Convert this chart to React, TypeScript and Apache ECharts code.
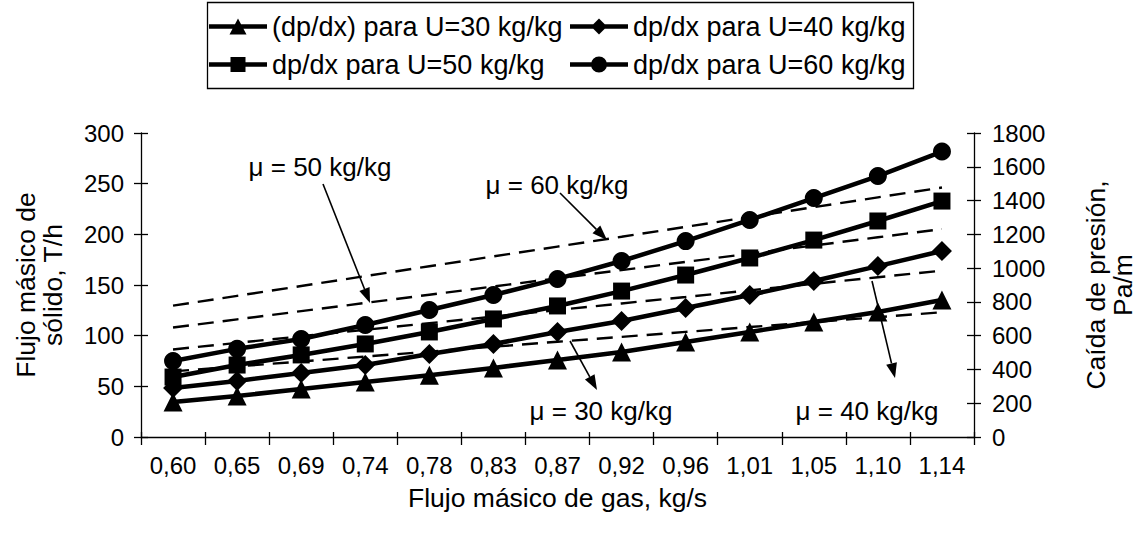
import React, { useEffect, useRef } from "react";
import * as echarts from "echarts";

// ---------- data ----------
const gasFlow = ["0,60", "0,65", "0,69", "0,74", "0,78", "0,83", "0,87", "0,92", "0,96", "1,01", "1,05", "1,10", "1,14"];

// pressure drop (Pa/m), right axis
const dpU30 = [207, 243, 284, 326, 365, 409, 456, 503, 562, 622, 681, 740, 811];
const dpU40 = [290, 332, 379, 426, 491, 551, 622, 687, 764, 841, 924, 1012, 1101];
const dpU50 = [355, 426, 486, 551, 622, 699, 776, 864, 959, 1060, 1166, 1279, 1397];
const dpU60 = [450, 522, 580, 663, 752, 841, 936, 1042, 1160, 1285, 1415, 1545, 1690];

// solids mass flow (T/h), left axis
const solidsMu30 = [64.8, 69.7, 74.5, 79.4, 84.2, 89.1, 94.0, 98.8, 103.7, 108.5, 113.4, 118.3, 123.1];
const solidsMu40 = [86.4, 92.9, 99.4, 105.8, 112.3, 118.8, 125.3, 131.8, 138.2, 144.7, 151.2, 157.7, 164.2];
const solidsMu50 = [108.0, 116.1, 124.2, 132.3, 140.4, 148.5, 156.6, 164.7, 172.8, 180.9, 189.0, 197.1, 205.2];
const solidsMu60 = [129.6, 139.3, 149.0, 158.8, 168.5, 178.2, 187.9, 197.6, 207.4, 217.1, 226.8, 236.5, 246.2];

const seriesNames = [
  "(dp/dx) para U=30 kg/kg",
  "dp/dx para U=40 kg/kg",
  "dp/dx para U=50 kg/kg",
  "dp/dx para U=60 kg/kg",
];
const annotationTexts = ["μ = 50 kg/kg", "μ = 60 kg/kg", "μ = 30 kg/kg", "μ = 40 kg/kg"];

const leftAxisRange = { min: 0, max: 300, interval: 50 };
const rightAxisRange = { min: 0, max: 1800, interval: 200 };

const xAxisTitle = "Flujo másico de gas, kg/s";
const leftAxisTitle = "Flujo másico de\nsólido, T/h";
const rightAxisTitle = "Caída de presión,\nPa/m";

// ---------- layout / style ----------
const FONT = '"Liberation Sans", Arial, Helvetica, sans-serif';
const BLACK = "#000";

// annotation layout: [textCenterX, textCenterY, arrowFromX, arrowFromY, arrowToX, arrowToY]
const annotationLayout = [
  [320, 167, 323, 184, 370, 303],
  [557, 185, 560, 193, 607, 240],
  [601, 411, 570, 341, 597, 390],
  [867, 411, 872, 281, 895, 378],
];

// legend icons: thick line with the marker in the middle (58 x 16 box)
const BAR = "M0 5.75 H58 V10.25 H0 Z ";
const legendIcons = [
  "path://" + BAR + "M29 0 L37.5 16 L20.5 16 Z",
  "path://" + BAR + "M29 0 L37 8 L29 16 L21 8 Z",
  "path://" + BAR + "M21.5 0.5 H36.5 V15.5 H21.5 Z",
  "path://" + BAR + "M21 8 A8 8 0 1 1 37 8 A8 8 0 1 1 21 8 Z",
];

function arrowElements(x1: number, y1: number, x2: number, y2: number) {
  const dx = x2 - x1;
  const dy = y2 - y1;
  const len = Math.sqrt(dx * dx + dy * dy);
  const ux = dx / len;
  const uy = dy / len;
  const headLen = 15;
  const headHalf = 5.5;
  const bx = x2 - ux * headLen;
  const by = y2 - uy * headLen;
  return [
    {
      type: "line",
      shape: { x1, y1, x2: bx, y2: by },
      style: { stroke: BLACK, lineWidth: 1.6 },
      z: 100,
    },
    {
      type: "polygon",
      shape: {
        points: [
          [x2, y2],
          [bx - uy * headHalf, by + ux * headHalf],
          [bx + uy * headHalf, by - ux * headHalf],
        ],
      },
      style: { fill: BLACK },
      z: 100,
    },
  ];
}

export default function App() {
  const ref = useRef<HTMLDivElement>(null);

  useEffect(() => {
    if (!ref.current) return;
    const chart = echarts.init(ref.current, undefined, { renderer: "svg" });

    const axisLabelStyle = { color: BLACK, fontSize: 24, fontFamily: FONT };

    const solidSeries = [dpU30, dpU40, dpU50, dpU60].map((d, i) => ({
      name: seriesNames[i],
      type: "line",
      xAxisIndex: 0,
      yAxisIndex: 1,
      data: d,
      symbol: ["triangle", "diamond", "rect", "circle"][i],
      symbolSize: [19, 20, 17, 18][i],
      lineStyle: { color: BLACK, width: 4.5 },
      itemStyle: { color: BLACK },
      z: 5,
    }));

    const dashedSeries = [solidsMu30, solidsMu40, solidsMu50, solidsMu60].map((d, i) => ({
      name: "mu" + (30 + 10 * i),
      type: "line",
      xAxisIndex: 0,
      yAxisIndex: 0,
      data: d,
      symbol: "none",
      lineStyle: { color: BLACK, width: 2.4, type: [16, 9] },
      z: 3,
      silent: true,
    }));

    const graphics: any[] = [
      {
        type: "rect",
        shape: { x: 207.5, y: 2.5, width: 706, height: 86 },
        style: { fill: "none", stroke: BLACK, lineWidth: 1.3 },
      },
    ];
    annotationLayout.forEach((a, i) => {
      graphics.push({
        type: "text",
        x: a[0],
        y: a[1],
        style: {
          text: annotationTexts[i],
          fontSize: 26,
          fontFamily: FONT,
          fill: BLACK,
          align: "center",
          verticalAlign: "middle",
        },
        z: 100,
      });
      graphics.push(...arrowElements(a[2], a[3], a[4], a[5]));
    });

    const legendCommon = {
      orient: "vertical",
      top: 13,
      itemWidth: 58,
      itemHeight: 16,
      itemGap: 11,
      textStyle: { color: BLACK, fontSize: 27, fontFamily: FONT, lineHeight: 27 },
      padding: 0,
    };

    const nameStyle = { color: BLACK, fontSize: 26.5, fontFamily: FONT, lineHeight: 27 };

    chart.setOption({
      animation: false,
      backgroundColor: "#fff",
      textStyle: { fontFamily: FONT },
      grid: { left: 141, right: 151, top: 133, bottom: 98, containLabel: false },
      legend: [
        {
          ...legendCommon,
          left: 209,
          data: [
            { name: seriesNames[0], icon: legendIcons[0] },
            { name: seriesNames[2], icon: legendIcons[2] },
          ],
        },
        {
          ...legendCommon,
          left: 570,
          data: [
            { name: seriesNames[1], icon: legendIcons[1] },
            { name: seriesNames[3], icon: legendIcons[3] },
          ],
        },
      ],
      xAxis: [
        {
          type: "category",
          data: gasFlow,
          boundaryGap: true,
          position: "bottom",
          axisLine: { show: true, lineStyle: { color: BLACK, width: 1.3 } },
          axisTick: { show: true, inside: false, length: 8, lineStyle: { color: BLACK, width: 1.3 } },
          axisLabel: { ...axisLabelStyle, margin: 16, interval: 0 },
          splitLine: { show: false },
          name: xAxisTitle,
          nameLocation: "middle",
          nameGap: 47,
          nameTextStyle: nameStyle,
        },
        {
          type: "category",
          data: gasFlow,
          boundaryGap: true,
          position: "bottom",
          axisLine: { show: false },
          axisTick: { show: true, inside: true, length: 5, lineStyle: { color: BLACK, width: 1.3 } },
          axisLabel: { show: false },
          splitLine: { show: false },
        },
      ],
      yAxis: [
        {
          type: "value",
          position: "left",
          ...leftAxisRange,
          axisLine: { show: true, lineStyle: { color: BLACK, width: 1.3 } },
          axisTick: { show: true, inside: false, length: 7, lineStyle: { color: BLACK, width: 1.3 } },
          axisLabel: { ...axisLabelStyle, margin: 17, formatter: (v: number) => String(v) },
          splitLine: { show: false },
          name: leftAxisTitle,
          nameLocation: "middle",
          nameRotate: 90,
          nameGap: 75,
          nameTextStyle: nameStyle,
        },
        {
          type: "value",
          position: "right",
          ...rightAxisRange,
          axisLine: { show: true, lineStyle: { color: BLACK, width: 1.3 } },
          axisTick: { show: true, inside: false, length: 7, lineStyle: { color: BLACK, width: 1.3 } },
          axisLabel: { ...axisLabelStyle, margin: 18, formatter: (v: number) => String(v) },
          splitLine: { show: false },
          name: rightAxisTitle,
          nameLocation: "middle",
          nameRotate: 90,
          nameGap: 108,
          nameTextStyle: nameStyle,
        },
        {
          type: "value",
          position: "left",
          ...leftAxisRange,
          axisLine: { show: false },
          axisTick: { show: true, inside: true, length: 7, lineStyle: { color: BLACK, width: 1.3 } },
          axisLabel: { show: false },
          splitLine: { show: false },
        },
        {
          type: "value",
          position: "right",
          ...rightAxisRange,
          axisLine: { show: false },
          axisTick: { show: true, inside: true, length: 7, lineStyle: { color: BLACK, width: 1.3 } },
          axisLabel: { show: false },
          splitLine: { show: false },
        },
      ],
      series: [...dashedSeries, ...solidSeries],
      graphic: graphics,
    });

    return () => chart.dispose();
  }, []);

  return (
    <div
      ref={ref}
      style={{ position: "fixed", left: 0, top: 0, width: 1144, height: 535, background: "#fff" }}
    />
  );
}
